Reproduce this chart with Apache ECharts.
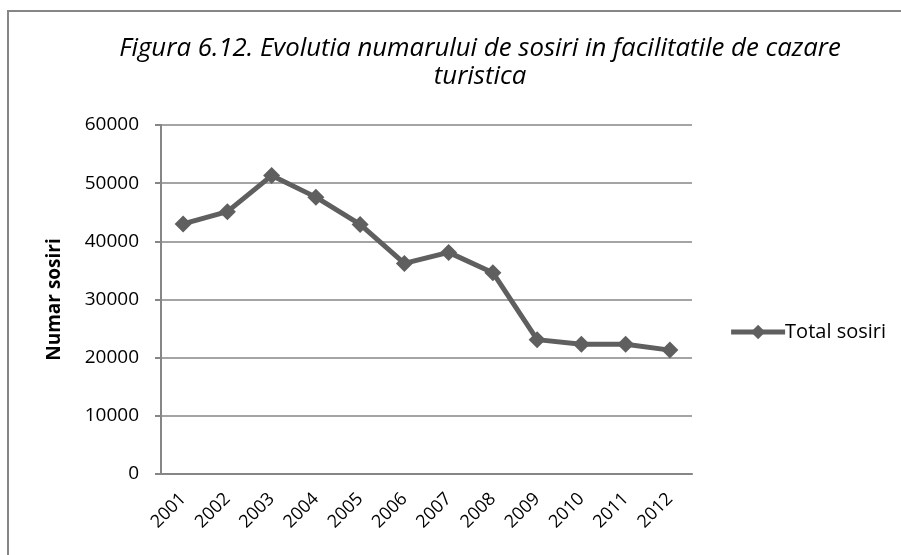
<!DOCTYPE html>
<html>
<head>
<meta charset="utf-8">
<script src="https://cdn.jsdelivr.net/npm/echarts@6/dist/echarts.min.js"></script>
<style>
html, body { margin: 0; padding: 0; background: #fff; }
#chart { width: 901px; height: 555px; }
</style>
</head>
<body>
<div id="chart"></div>
<script>
// date grafic
var years = ['2001', '2002', '2003', '2004', '2005', '2006', '2007', '2008', '2009', '2010', '2011', '2012'];
var sosiri = [43000, 45100, 51300, 47600, 42900, 36200, 38100, 34600, 23100, 22300, 22300, 21300];
var yTicks = [0, 60000, 10000]; // min, max, pas

var font = 'Open Sans';
var myChart = echarts.init(document.getElementById('chart'));

var option = {
    animation: false,
    backgroundColor: '#fff',
    graphic: [{
        type: 'rect',
        shape: { x: 8, y: 11, width: 1000, height: 1000 },
        style: { fill: 'none', stroke: '#868686', lineWidth: 2 }
    }],
    title: {
        text: 'Figura 6.12. Evolutia numarului de sosiri in facilitatile de cazare\nturistica',
        left: 475,
        textAlign: 'center',
        top: 30,
        textStyle: {
            fontFamily: font,
            fontStyle: 'italic',
            fontWeight: 'normal',
            fontSize: 25.8,
            lineHeight: 28,
            color: '#000'
        }
    },
    legend: {
        data: ['Total sosiri'],
        right: 10,
        top: 317,
        itemWidth: 54,
        itemHeight: 18,
        itemGap: 0,
        lineStyle: { width: 5 },
        textStyle: { fontFamily: font, fontSize: 20, color: '#000', padding: [0, 0, 0, -5] }
    },
    grid: {
        left: 161,
        right: 209,
        top: 125,
        bottom: 81,
        containLabel: false
    },
    xAxis: {
        type: 'category',
        data: years,
        boundaryGap: true,
        axisLine: { lineStyle: { color: '#868686', width: 2 } },
        axisTick: { show: false },
        axisLabel: {
            rotate: 45,
            margin: 22,
            fontFamily: font,
            fontSize: 18,
            color: '#000'
        }
    },
    yAxis: {
        type: 'value',
        min: yTicks[0],
        max: yTicks[1],
        interval: yTicks[2],
        name: 'Numar sosiri',
        nameLocation: 'middle',
        nameGap: 97,
        nameTextStyle: { fontFamily: font, fontWeight: 'bold', fontSize: 19, color: '#000' },
        axisLine: { show: true, lineStyle: { color: '#868686', width: 2 } },
        axisTick: { show: true, length: 6, lineStyle: { color: '#868686', width: 2 } },
        splitLine: { lineStyle: { color: '#868686', width: 1.5 } },
        axisLabel: {
            margin: 22,
            fontFamily: font,
            fontSize: 19,
            color: '#000',
            formatter: function (v) { return String(v); }
        }
    },
    series: [{
        name: 'Total sosiri',
        type: 'line',
        data: sosiri,
        symbol: 'diamond',
        symbolSize: 17,
        lineStyle: { color: '#5f5f5f', width: 5 },
        itemStyle: { color: '#5f5f5f' }
    }]
};

myChart.setOption(option);
</script>
</body>
</html>
